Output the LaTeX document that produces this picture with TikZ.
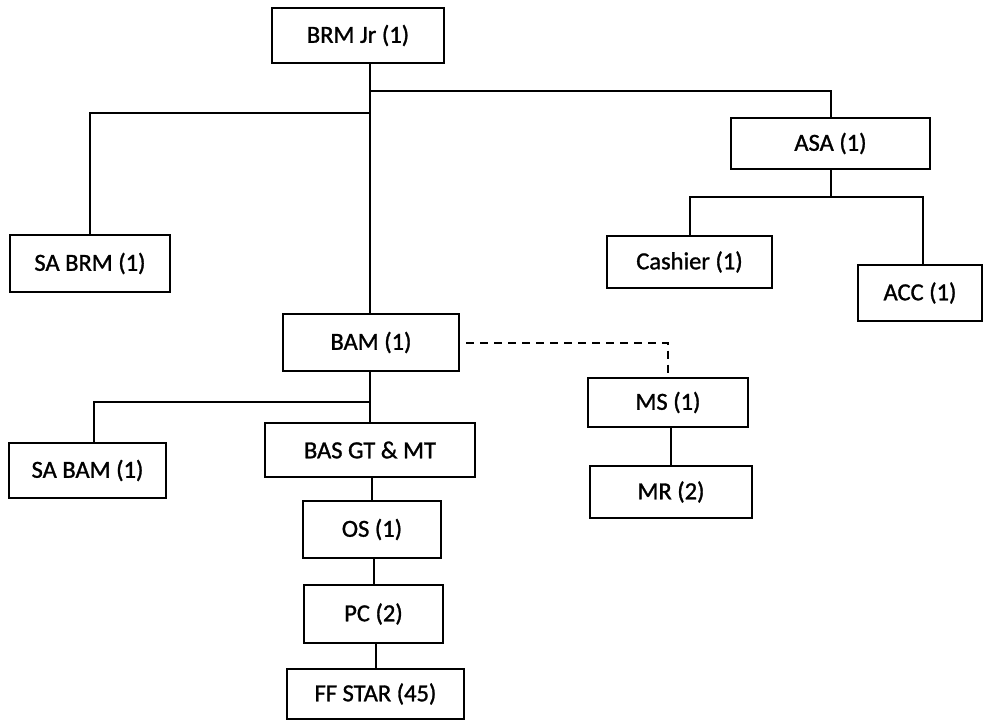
\documentclass[tikz,border=0pt]{standalone}
\usepackage{fontspec}
\setmainfont{Carlito}[FakeBold=1.2]
\begin{document}
\begin{tikzpicture}[x=1pt,y=-1pt,
  box/.style={draw, line width=2.2pt, inner sep=0pt, align=center, font=\fontsize{24.5}{28}\selectfont},
  link/.style={line width=2pt},
  dlink/.style={line width=2pt, dash pattern=on 8pt off 6pt, dash phase=8pt}]
\useasboundingbox (0,0) rectangle (985,722);
\node[box, minimum width=172pt, minimum height=55pt] (brm) at (358,35.5) {BRM Jr (1)};
\node[box, minimum width=160pt, minimum height=57pt] (sabrm) at (90,263.5) {SA BRM (1)};
\node[box, minimum width=199pt, minimum height=51pt] (asa) at (830.5,143.5) {ASA (1)};
\node[box, minimum width=165pt, minimum height=52pt] (cash) at (689.5,262) {Cashier (1)};
\node[box, minimum width=124pt, minimum height=56pt] (acc) at (920,293) {ACC (1)};
\node[box, minimum width=176pt, minimum height=57pt] (bam) at (371,342.5) {BAM (1)};
\node[box, minimum width=160pt, minimum height=49pt] (ms) at (668,402.5) {MS (1)};
\node[box, minimum width=162pt, minimum height=52pt] (mr) at (671,492) {MR (2)};
\node[box, minimum width=157pt, minimum height=55pt] (sabam) at (87.5,470.5) {SA BAM (1)};
\node[box, minimum width=210pt, minimum height=54pt] (bas) at (370,450) {BAS GT \& MT};
\node[box, minimum width=138pt, minimum height=57pt] (os) at (372,529.5) {OS (1)};
\node[box, minimum width=139pt, minimum height=58pt] (pc) at (373.5,614) {PC (2)};
\node[box, minimum width=177pt, minimum height=50pt] (ff) at (375.5,694) {FF STAR (45)};
\coordinate (j1) at (370,91);
\coordinate (j2) at (370,113);
\coordinate (j3) at (831,197);
\coordinate (j4) at (370,402);
% spine
\draw[link] (brm.south -| j1) -- (bam.north -| j1);
\draw[link] (j1) -| (asa.north);
\draw[link] (j2) -| (sabrm.north);
\draw[link] (asa.south -| j3) -- (j3);
\draw[link] (j3) -| (cash.north);
\draw[link] (j3) -| ([xshift=3pt]acc.north);
\draw[dlink] (bam.east) -| (ms.north);
\draw[link] (bam.south -| j4) -- (bas.north -| j4);
\draw[link] (j4) -| ([xshift=6.5pt]sabam.north);
\draw[link] (bas.south -| os.north) -- (os.north);
\draw[link] (os.south -| pc.north) -- (pc.north);
\draw[link] (pc.south -| ff.north) -- (ff.north);
\draw[link] (ms.south -| mr.north) -- (mr.north);
\end{tikzpicture}
\end{document}
